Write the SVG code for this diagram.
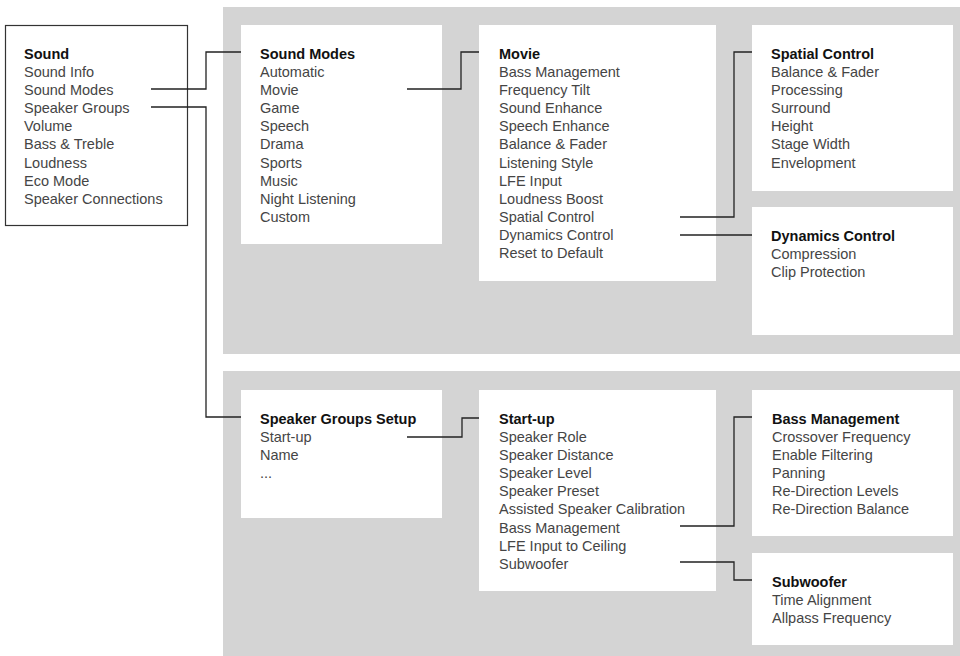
<svg xmlns="http://www.w3.org/2000/svg" width="960" height="656" viewBox="0 0 960 656">
<style>
.panel{fill:#d4d4d4}
.box{fill:#ffffff}
.root{fill:#ffffff;stroke:#333;stroke-width:1.2}
text{font-family:"Liberation Sans",Arial,Helvetica,sans-serif;font-size:14.5px;fill:#454545}
.h{font-weight:bold;fill:#111}
.conn{fill:none;stroke:#222;stroke-width:1.3}
</style>
<rect width="960" height="656" fill="#ffffff"/>
<rect class="panel" x="223" y="7" width="737" height="347"/>
<rect class="panel" x="223" y="371" width="737" height="285"/>

<g id="sound">
<rect class="root" x="5.5" y="25.5" width="182" height="200"/>
<text x="24" y="58.5"><tspan class="h">Sound</tspan><tspan x="24" dy="18.17">Sound Info</tspan><tspan x="24" dy="18.17">Sound Modes</tspan><tspan x="24" dy="18.17">Speaker Groups</tspan><tspan x="24" dy="18.17">Volume</tspan><tspan x="24" dy="18.17">Bass &amp; Treble</tspan><tspan x="24" dy="18.17">Loudness</tspan><tspan x="24" dy="18.17">Eco Mode</tspan><tspan x="24" dy="18.17">Speaker Connections</tspan></text>
</g>

<g id="sound-modes">
<rect class="box" x="241" y="25" width="201" height="219"/>
<text x="260" y="58.5"><tspan class="h">Sound Modes</tspan><tspan x="260" dy="18.17">Automatic</tspan><tspan x="260" dy="18.17">Movie</tspan><tspan x="260" dy="18.17">Game</tspan><tspan x="260" dy="18.17">Speech</tspan><tspan x="260" dy="18.17">Drama</tspan><tspan x="260" dy="18.17">Sports</tspan><tspan x="260" dy="18.17">Music</tspan><tspan x="260" dy="18.17">Night Listening</tspan><tspan x="260" dy="18.17">Custom</tspan></text>
</g>

<g id="movie">
<rect class="box" x="479" y="25" width="237" height="256"/>
<text x="499" y="58.5"><tspan class="h">Movie</tspan><tspan x="499" dy="18.17">Bass Management</tspan><tspan x="499" dy="18.17">Frequency Tilt</tspan><tspan x="499" dy="18.17">Sound Enhance</tspan><tspan x="499" dy="18.17">Speech Enhance</tspan><tspan x="499" dy="18.17">Balance &amp; Fader</tspan><tspan x="499" dy="18.17">Listening Style</tspan><tspan x="499" dy="18.17">LFE Input</tspan><tspan x="499" dy="18.17">Loudness Boost</tspan><tspan x="499" dy="18.17">Spatial Control</tspan><tspan x="499" dy="18.17">Dynamics Control</tspan><tspan x="499" dy="18.17">Reset to Default</tspan></text>
</g>

<g id="spatial-control">
<rect class="box" x="752" y="25" width="201" height="166"/>
<text x="771" y="58.5"><tspan class="h">Spatial Control</tspan><tspan x="771" dy="18.17">Balance &amp; Fader</tspan><tspan x="771" dy="18.17">Processing</tspan><tspan x="771" dy="18.17">Surround</tspan><tspan x="771" dy="18.17">Height</tspan><tspan x="771" dy="18.17">Stage Width</tspan><tspan x="771" dy="18.17">Envelopment</tspan></text>
</g>

<g id="dynamics-control">
<rect class="box" x="752" y="207" width="201" height="128"/>
<text x="771" y="240.5"><tspan class="h">Dynamics Control</tspan><tspan x="771" dy="18.17">Compression</tspan><tspan x="771" dy="18.17">Clip Protection</tspan></text>
</g>

<g id="speaker-groups-setup">
<rect class="box" x="241" y="390" width="201" height="128"/>
<text x="260" y="423.5"><tspan class="h">Speaker Groups Setup</tspan><tspan x="260" dy="18.17">Start-up</tspan><tspan x="260" dy="18.17">Name</tspan><tspan x="260" dy="18.17">...</tspan></text>
</g>

<g id="start-up">
<rect class="box" x="479" y="390" width="237" height="201"/>
<text x="499" y="423.5"><tspan class="h">Start-up</tspan><tspan x="499" dy="18.17">Speaker Role</tspan><tspan x="499" dy="18.17">Speaker Distance</tspan><tspan x="499" dy="18.17">Speaker Level</tspan><tspan x="499" dy="18.17">Speaker Preset</tspan><tspan x="499" dy="18.17">Assisted Speaker Calibration</tspan><tspan x="499" dy="18.17">Bass Management</tspan><tspan x="499" dy="18.17">LFE Input to Ceiling</tspan><tspan x="499" dy="18.17">Subwoofer</tspan></text>
</g>

<g id="bass-management">
<rect class="box" x="752" y="390" width="201" height="146"/>
<text x="772" y="423.5"><tspan class="h">Bass Management</tspan><tspan x="772" dy="18.17">Crossover Frequency</tspan><tspan x="772" dy="18.17">Enable Filtering</tspan><tspan x="772" dy="18.17">Panning</tspan><tspan x="772" dy="18.17">Re-Direction Levels</tspan><tspan x="772" dy="18.17">Re-Direction Balance</tspan></text>
</g>

<g id="subwoofer">
<rect class="box" x="752" y="553" width="201" height="92"/>
<text x="772" y="586.5"><tspan class="h">Subwoofer</tspan><tspan x="772" dy="18.17">Time Alignment</tspan><tspan x="772" dy="18.17">Allpass Frequency</tspan></text>
</g>

<g id="connectors">
<path class="conn" d="M151,89 H206 V52 H241"/>
<path class="conn" d="M151,107 H206 V417 H241"/>
<path class="conn" d="M407,89 H461 V52 H479"/>
<path class="conn" d="M680,217 H734 V52 H752"/>
<path class="conn" d="M680,235 H752"/>
<path class="conn" d="M407,437 H462 V418 H479"/>
<path class="conn" d="M680,526 H734 V417 H752"/>
<path class="conn" d="M680,562 H734 V580 H752"/>
</g>
</svg>
